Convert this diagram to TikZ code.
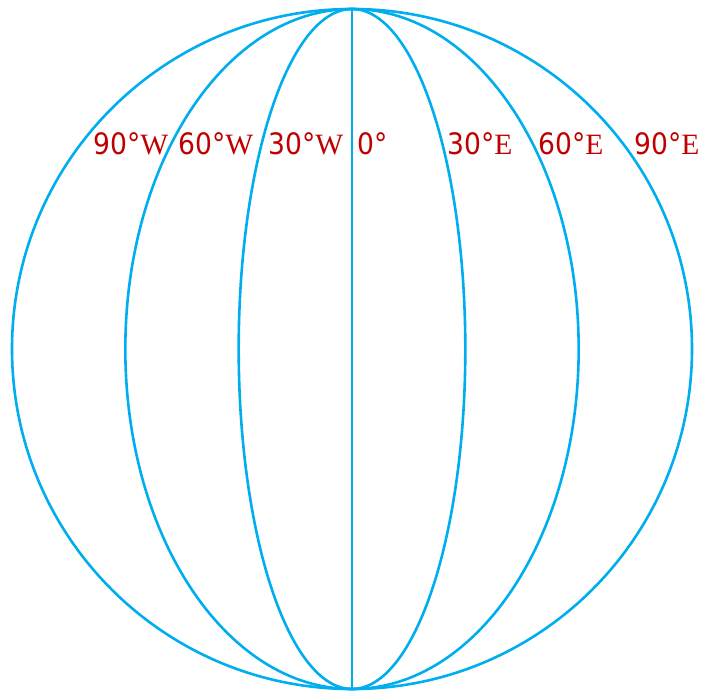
\documentclass[tikz,border=0pt]{standalone}
\usepackage{fontspec}
\setmainfont{Liberation Serif}
\newfontfamily\digitfont{DejaVu Sans Condensed}
\definecolor{globeblue}{HTML}{00AEEF}
\definecolor{labelred}{HTML}{C00000}
\newcommand{\lon}[2]{{\digitfont #1°}#2}
\tikzset{
  every picture/.style={line join=round, line cap=round},
  meridian/.style={globeblue, line width=0.065cm},
  lbl/.style={labelred, font=\fontsize{21}{23}\selectfont, anchor=base west, inner sep=0pt},
}

\begin{document}
\begin{tikzpicture}
\useasboundingbox (-8.8,-8.55) rectangle (8.75,8.725);
% globe outline and meridians
\draw[meridian] (0,0) circle (8.5);
\foreach \a in {5.667,2.833}
  \draw[meridian] (0,0) ellipse ({\a} and 8.5);
\draw[meridian] (0,8.5) -- (0,-8.5);
% labels
\node[lbl] (w90) at (-6.475,4.875) {\lon{90}{W}};
\node[lbl] (w60) at (-4.35,4.875) {\lon{60}{W}};
\node[lbl] (w30) at (-2.1,4.875) {\lon{30}{W}};
\node[lbl] (z0) at (0.125,4.875) {\lon{0}{}};
\node[lbl] (e30) at (2.375,4.875) {\lon{30}{E}};
\node[lbl] (e60) at (4.65,4.875) {\lon{60}{E}};
\node[lbl] (e90) at (7.05,4.875) {\lon{90}{E}};
\end{tikzpicture}
\end{document}
